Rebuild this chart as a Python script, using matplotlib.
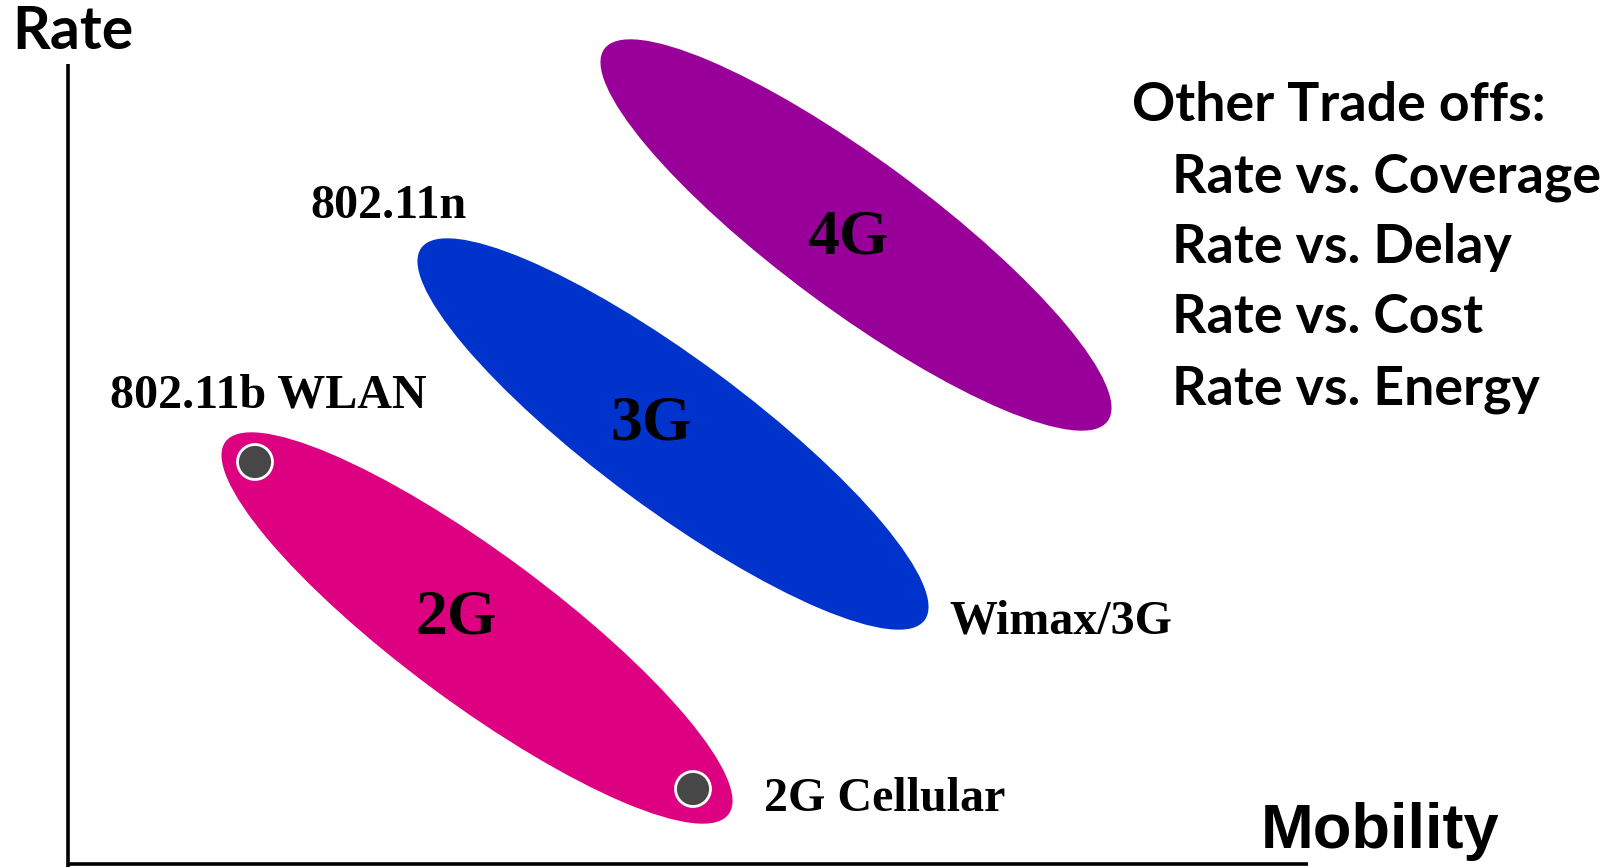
import matplotlib
matplotlib.use("Agg")
import matplotlib.pyplot as plt
from matplotlib.patches import Ellipse, Circle

# canvas is laid out in pixel units (y grows downwards)
W, H = 1618, 867

# technology clouds: name, centre x, centre y, colour
gen_names = ["4G", "3G", "2G"]
gen_cx = [856, 673, 477]
gen_cy = [235, 434, 628]
gen_colors = ["#990099", "#0033CC", "#DD0081"]
gen_label_x = [848, 651, 456]
gen_label_y = [239, 425, 619]
cloud_len = 626
cloud_wid = 150
cloud_angle = 36.5

# the two marked systems on the 2G cloud
dot_x = [255, 693]
dot_y = [462, 789]

# system labels (serif)
sys_labels = ["802.11n", "802.11b WLAN", "Wimax/3G", "2G Cellular"]
sys_x = [310, 110, 949, 764]
sys_y = [218, 407, 633, 811]

tradeoffs = ["Rate vs. Coverage", "Rate vs. Delay", "Rate vs. Cost", "Rate vs. Energy"]

fig = plt.figure(figsize=(W / 100, H / 100), dpi=100)
ax = fig.add_axes([0, 0, 1, 1])
ax.set_xlim(0, W)
ax.set_ylim(H, 0)
ax.axis("off")

# axes (plain lines, no arrow heads)
ax.plot([68, 68], [64, 867], color="black", lw=2.6, solid_capstyle="butt")
ax.plot([68, 1308], [864, 864], color="black", lw=2.6, solid_capstyle="butt")

for i in range(len(gen_names)):
    ax.add_patch(Ellipse((gen_cx[i], gen_cy[i]), cloud_len, cloud_wid, angle=cloud_angle,
                         facecolor=gen_colors[i], edgecolor="none"))
    ax.text(gen_label_x[i], gen_label_y[i], gen_names[i], family="Liberation Serif",
            weight="bold", fontsize=46, ha="center", va="center")

for x, y in zip(dot_x, dot_y):
    ax.add_patch(Circle((x, y), 17.5, facecolor="#474747", edgecolor="white", lw=2))

for t, x, y in zip(sys_labels, sys_x, sys_y):
    ax.text(x, y, t, family="Liberation Serif", weight="bold", fontsize=34.6,
            ha="left", va="baseline")

ax.text(12, 49, "Rate", family="Lato", weight="bold", fontsize=42.5, ha="left", va="baseline")
ax.text(1261, 848, "Mobility", family="Liberation Sans", weight="bold", fontsize=45.5,
        ha="left", va="baseline")

ax.text(1132, 121, "Other Trade offs:", family="Lato", weight="bold", fontsize=38.6,
        ha="left", va="baseline")
for i, t in enumerate(tradeoffs):
    ax.text(1172, 192 + i * 70.7, t, family="Lato", weight="bold", fontsize=38.6,
            ha="left", va="baseline")

fig.savefig("out.png", dpi=100)
